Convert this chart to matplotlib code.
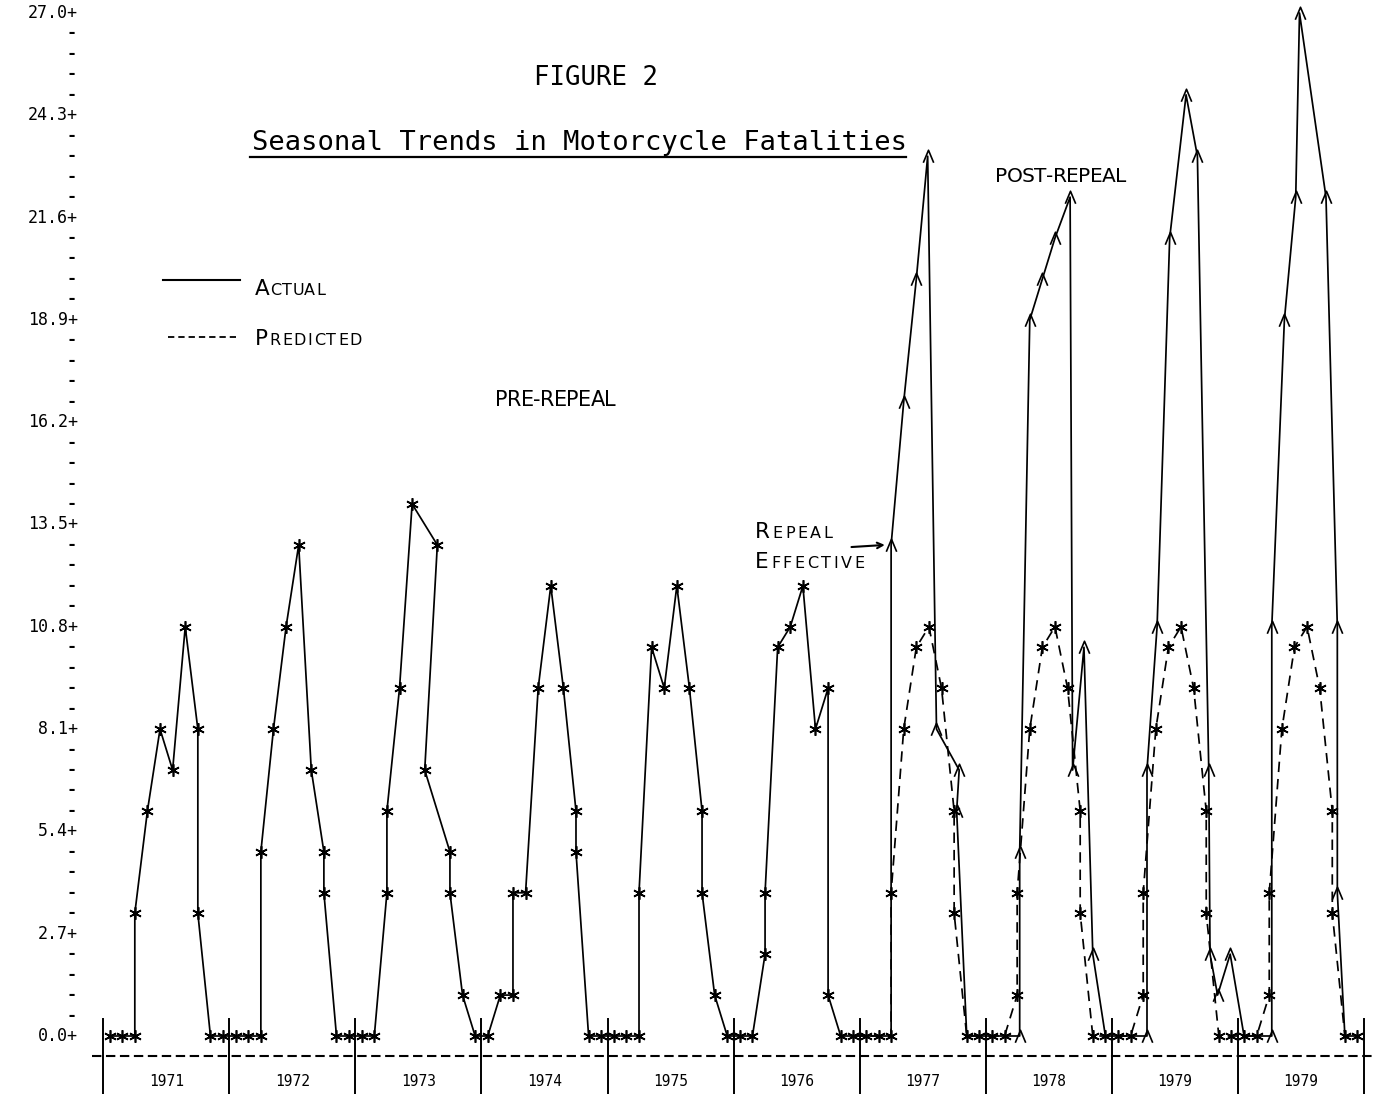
import matplotlib
matplotlib.use("Agg")
import matplotlib.pyplot as plt
from matplotlib.path import Path
import numpy as np

# ---------------- data ----------------
YEAR_LABELS = ["1971", "1972", "1973", "1974", "1975", "1976",
               "1977", "1978", "1979", "1979"]

# printer-plot column (within a year, 10 columns per year) for each month
STD_COLS = [0.5, 1.5, 2.5, 2.5, 3.5, 4.5, 5.5, 6.5, 7.5, 7.5, 8.5, 9.5]
COLS_1973 = [0.5, 1.5, 2.5, 2.5, 3.5, 4.5, 6.5, 5.5, 7.5, 7.5, 8.5, 9.5]

# pre-repeal monthly fatalities (1971-1976)
PRE_1971 = [0, 0, 0, 3.24, 5.94, 8.1, 7.02, 10.8, 8.1, 3.24, 0, 0]
PRE_1972 = [0, 0, 0, 4.86, 8.1, 10.8, 12.96, 7.02, 4.86, 3.78, 0, 0]
PRE_1973 = [0, 0, 3.78, 5.94, 9.18, 14.04, 12.96, 7.02, 4.86, 3.78, 1.08, 0]
PRE_1974 = [0, 1.08, 1.08, 3.78, 3.78, 9.18, 11.88, 9.18, 5.94, 4.86, 0, 0]
PRE_1975 = [0, 0, 0, 3.78, 10.26, 9.18, 11.88, 9.18, 5.94, 3.78, 1.08, 0]
PRE_1976 = [0, 0, 2.16, 3.78, 10.26, 10.8, 11.88, 8.1, 9.18, 1.08, 0, 0]
PRE_VALUES = [PRE_1971, PRE_1972, PRE_1973, PRE_1974, PRE_1975, PRE_1976]
PRE_COLS = [STD_COLS, STD_COLS, COLS_1973, STD_COLS, STD_COLS, STD_COLS]

# post-repeal predicted (dashed) 1977-1979(2)
PRED_1977 = [0, 0, 0, 3.78, 8.1, 10.26, 10.8, 9.18, 5.94, 3.24, 0, 0]
PRED_1978 = [0, 0, 1.08, 3.78, 8.1, 10.26, 10.8, 9.18, 5.94, 3.24, 0, 0]
PRED_1979A = [0, 0, 1.08, 3.78, 8.1, 10.26, 10.8, 9.18, 5.94, 3.24, 0, 0]
PRED_1979B = [0, 0, 1.08, 3.78, 8.1, 10.26, 10.8, 9.18, 5.94, 3.24, 0, 0]
POST_PRED = [PRED_1977, PRED_1978, PRED_1979A, PRED_1979B]

# post-repeal actual (solid)
ACT_1977 = [0, 0, 0, 12.96, 16.74, 19.98, 23.22, 8.1, 7.02, 5.94, 0, 0]
ACT_1978 = [0, 0, 0, 4.86, 18.9, 19.98, 21.06, 22.14, 7.02, 10.26, 2.16, 0]
ACT_1979A = [0, 0, 0, 7.02, 10.8, 21.06, 24.84, 23.22, 7.02, 2.16, 1.08, 2.16]
ACT_1979B = [0, 0, 0, 10.8, 18.9, 22.14, 27.0, 22.14, 10.8, 3.78, 0, 0]
POST_ACT = [ACT_1977, ACT_1978, ACT_1979A, ACT_1979B]
ACT_COLS_1977 = [0.5, 1.5, 2.5, 2.5, 3.5, 4.5, 5.4, 6.1, 7.9, 7.7, 8.5, 9.5]
ACT_COLS_1978 = [0.5, 1.5, 2.7, 2.7, 3.5, 4.5, 5.5, 6.7, 6.9, 7.8, 8.5, 9.5]
ACT_COLS_1979A = [0.5, 1.5, 2.8, 2.8, 3.6, 4.6, 5.9, 6.8, 7.7, 7.8, 8.4, 9.4]
ACT_COLS_1979B = [0.5, 1.5, 2.7, 2.7, 3.7, 4.6, 4.9, 7.0, 7.9, 7.9, 8.5, 9.5]
POST_ACT_COLS = [ACT_COLS_1977, ACT_COLS_1978, ACT_COLS_1979A, ACT_COLS_1979B]

Y_STEP = 0.54          # one printer row
Y_ROWS = 50            # 0 .. 27.0

# ---------------- figure / coordinate frame ----------------
W, H, DPI = 1373, 1094, 100
PX0, PXS = 103.3, 12.605     # pixel of x=0, pixels per column
PY0, PYS = 1036.0, 37.89     # pixel of y=0, pixels per unit


def X(px):
    return (px - PX0) / PXS


def Y(py):
    return (PY0 - py) / PYS


fig = plt.figure(figsize=(W / DPI, H / DPI), dpi=DPI)
fig.patch.set_facecolor("white")
ax = fig.add_axes([0, 0, 1, 1])
ax.set_xlim(X(0), X(W))
ax.set_ylim(Y(H), Y(0))
ax.axis("off")

MONO = "DejaVu Sans Mono"
SANS = "DejaVu Sans"

# ---------------- build series ----------------
pre_x, pre_y = [], []
for k, (vals, cols) in enumerate(zip(PRE_VALUES, PRE_COLS)):
    pre_x += [10 * k + c for c in cols]
    pre_y += list(vals)

n_pre = len(PRE_VALUES)
act_x, act_y, pred_x, pred_y = [], [], [], []
for j, (a, ac, p) in enumerate(zip(POST_ACT, POST_ACT_COLS, POST_PRED)):
    k = n_pre + j
    act_x += [10 * k + c for c in ac]
    act_y += list(a)
    pred_x += [10 * k + c for c in STD_COLS]
    pred_y += list(p)

act_x, act_y = np.array(act_x), np.array(act_y)
pred_x, pred_y = np.array(pred_x), np.array(pred_y)

solid_x = np.concatenate([pre_x, act_x])
solid_y = np.concatenate([pre_y, act_y])

LW = 1.25
ax.plot(solid_x, solid_y, color="black", lw=LW, zorder=3)
ax.plot(np.concatenate([pre_x[-1:], pred_x]), np.concatenate([pre_y[-1:], pred_y]),
        color="black", lw=LW, dashes=(6, 4), zorder=3)

STAR = (6, 2, 0)
ax.plot(pre_x, pre_y, ls="none", marker=STAR, ms=9, mew=1.2, color="black", zorder=4)
ax.plot(pred_x, pred_y, ls="none", marker=STAR, ms=9, mew=1.2, color="black", zorder=4)

caret = Path([(-0.5, -0.6), (0, 0.6), (0.5, -0.6)],
             [Path.MOVETO, Path.LINETO, Path.LINETO])
diff = act_y != pred_y
ax.plot(act_x[diff], act_y[diff], ls="none", marker=caret, ms=9, mew=1.2,
        mfc="none", mec="black", zorder=4)

# ---------------- y axis (printer style) ----------------
for i in range(Y_ROWS + 1):
    yv = i * Y_STEP
    if i % 5 == 0:
        ax.text(X(78), yv, f"{yv:.1f}+", ha="right", va="center",
                family=MONO, fontsize=12, color="black")
    else:
        ax.text(X(72), yv, "-", ha="center", va="center",
                family=MONO, fontsize=12, fontweight="bold", color="black")

# ---------------- x axis ----------------
n_years = len(YEAR_LABELS)
yb = Y(1055.5)
ax.plot([X(92), X(W)], [yb, yb], color="black", lw=1.5, dashes=(4.5, 2.2), zorder=2)
for k in range(n_years + 1):
    ax.plot([10 * k, 10 * k], [Y(1019), Y(H + 2)], color="black", lw=1.4, zorder=2)
for k, lab in enumerate(YEAR_LABELS):
    ax.text(10 * k + 5, Y(1081), lab, ha="center", va="center",
            family=MONO, fontsize=10.5, color="black")

# ---------------- titles ----------------
ax.text(X(596), Y(85), "FIGURE 2", ha="center", va="baseline",
        family=MONO, fontsize=18.5, color="black")
ax.text(X(579), Y(150), "Seasonal Trends in Motorcycle Fatalities",
        ha="center", va="baseline", family=MONO, fontsize=19.5, color="black")
ax.plot([X(250), X(906)], [Y(157), Y(157)], color="black", lw=1.6)

# ---------------- hand lettering ----------------
renderer = fig.canvas.get_renderer()


def lettering(x_px, base_py, text, big, small, spacing=0.0, caps_first=True):
    cur = x_px
    first = True
    for ch in text:
        if ch == " ":
            cur += small * 0.5
            first = True
            continue
        size = big if (first and caps_first) else small
        t = ax.text(X(cur), Y(base_py), ch, ha="left", va="baseline",
                    family=SANS, fontsize=size, color="black")
        cur += t.get_window_extent(renderer).width + spacing
        first = False


# legend
ax.plot([X(163), X(240)], [Y(280), Y(280)], color="black", lw=1.5)
ax.plot([X(168), X(236)], [Y(337), Y(337)], color="black", lw=1.3, dashes=(3.5, 2.2))
lettering(255, 295, "ACTUAL", 15.5, 11.5, spacing=0.5)
lettering(255, 345, "PREDICTED", 15.5, 11.5, spacing=1.5)

# period labels
lettering(495, 406, "PRE-REPEAL", 15, 15, spacing=-0.6, caps_first=False)
lettering(995, 182, "POST-REPEAL", 14.5, 14.5, spacing=-0.6, caps_first=False)

# repeal effective annotation
lettering(755, 538, "REPEAL", 15.5, 11.5, spacing=2.5)
lettering(755, 568, "EFFECTIVE", 15.5, 11.5, spacing=2.5)
rep_x = act_x[3]
rep_y = act_y[3]
ax.annotate("", xy=(rep_x - 0.5, rep_y), xytext=(-24, -1.5), textcoords="offset points",
            arrowprops=dict(arrowstyle="->", lw=1.5, color="black",
                            shrinkA=0, shrinkB=0))

fig.savefig("out.png", dpi=DPI, facecolor="white")
